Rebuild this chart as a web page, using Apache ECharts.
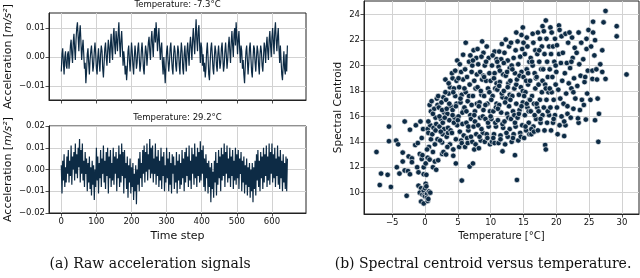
<!DOCTYPE html>
<html><head><meta charset="utf-8">
<script src="https://cdn.jsdelivr.net/npm/echarts@6/dist/echarts.min.js"></script>
<style>html,body{margin:0;padding:0;background:#fff}#c{width:640px;height:278px}</style>
</head><body><div id="c"></div>
<script>
// ---------- tick labels ----------
const timeStepTicks = [0, 100, 200, 300, 400, 500, 600];
const accelTicksCold = [-0.01, 0, 0.01];
const accelTicksWarm = [-0.02, -0.01, 0, 0.01, 0.02];
const temperatureTicks = [-5, 0, 5, 10, 15, 20, 25, 30];
const centroidTicks = [10, 12, 14, 16, 18, 20, 22, 24];

// ---------- texts ----------
const titleCold = 'Temperature: -7.3°C';
const titleWarm = 'Temperature: 29.2°C';
const captionA = '(a) Raw acceleration signals';
const captionB = '(b) Spectral centroid versus temperature.';

// ---------- signals (one stored sample every 2 time steps) ----------
const sampleStep = 2;
const signalCold = [
-0.005,0.001,0.003,-0.002,-0.006,0.000,0.002,-0.003,-0.004,0.001,
0.002,-0.004,-0.001,0.004,0.006,0.001,-0.002,0.005,0.008,0.003,
-0.001,0.006,0.010,0.012,0.007,0.002,0.008,0.011,0.005,-0.001,
0.003,0.006,0.001,-0.004,-0.002,-0.009,-0.005,0.001,0.003,-0.002,
-0.006,-0.001,0.002,0.004,0.000,-0.005,-0.003,0.002,0.005,0.001,
-0.004,-0.006,0.000,0.003,-0.002,-0.005,0.001,
0.004,0.002,-0.004,-0.007,-0.002,0.003,0.005,0.000,-0.003,0.002,
0.006,0.003,-0.002,0.004,0.008,0.002,-0.001,0.007,0.010,0.004,
0.001,0.009,0.006,0.002,0.008,0.012,0.005,0.000,0.006,0.009,
0.003,-0.003,0.002,-0.001,-0.006,-0.003,-0.008,-0.004,0.002,0.004,
-0.001,-0.005,0.000,0.005,0.002,-0.003,-0.006,0.000,0.004,0.001,
-0.004,-0.002,0.003,0.005,0.000,-0.005,-0.003,
0.002,0.005,0.001,-0.004,-0.006,0.000,0.004,0.002,-0.003,0.001,
0.005,0.007,0.002,-0.001,0.006,0.009,0.004,0.000,0.007,0.010,
0.005,0.012,0.008,0.002,0.006,0.010,0.004,-0.001,0.003,0.005,
-0.002,-0.006,0.000,-0.004,-0.009,-0.003,0.002,0.004,-0.001,-0.005,
-0.002,0.003,0.005,0.000,-0.004,-0.006,0.001,0.004,0.002,-0.003,
-0.005,0.000,0.004,0.002,-0.003,-0.006,0.001,
0.005,0.002,-0.004,-0.006,0.001,0.004,-0.001,-0.005,0.002,0.005,
0.001,-0.003,0.004,0.007,0.003,-0.001,0.006,0.010,0.005,0.001,
0.008,0.013,0.006,0.002,0.009,0.011,0.004,-0.002,0.005,0.003,
-0.003,0.001,-0.005,-0.002,-0.007,-0.004,0.002,0.005,0.000,-0.006,
-0.008,-0.002,0.003,0.005,0.001,-0.004,-0.006,0.000,0.004,0.002,
-0.003,-0.005,0.001,0.004,0.000,-0.004,-0.002,
0.003,0.005,0.000,-0.005,-0.003,0.002,0.005,0.001,-0.004,-0.001,
0.004,0.007,0.002,-0.002,0.005,0.009,0.004,0.000,0.008,0.010,
0.004,0.012,0.007,0.001,0.006,0.009,0.003,-0.002,0.004,0.002,
-0.004,-0.001,-0.006,-0.009,-0.003,0.002,0.004,-0.001,-0.006,-0.002,
0.003,0.005,0.000,-0.005,-0.007,-0.001,0.004,0.003,-0.002,-0.005,
0.000,0.004,0.002,-0.003,-0.006,0.001,0.004,
0.002,-0.003,-0.005,0.000,0.005,0.003,-0.002,0.004,0.007,0.002,
-0.001,0.006,0.009,0.004,0.000,0.007,0.010,0.005,0.001,0.009,
0.012,0.006,0.002,0.007,0.010,0.003,-0.002,0.004,-0.001,-0.006,
-0.008,-0.003,0.002,-0.004,-0.006,0.001,-0.005,0.004
];
const signalWarm = [
0.002,-0.011,0.004,-0.005,0.007,-0.008,0.001,-0.006,0.006,-0.002,
0.009,-0.006,0.004,-0.003,0.011,-0.007,0.006,0.000,0.008,-0.005,
0.012,-0.002,0.007,-0.004,0.010,0.001,0.014,-0.006,0.009,-0.002,
0.012,-0.005,0.004,-0.008,0.008,-0.002,0.005,-0.010,0.003,-0.006,
0.006,-0.009,0.001,-0.012,0.004,-0.007,0.002,-0.014,0.000,-0.008,
0.010,-0.005,0.006,-0.011,0.003,-0.004,0.009,-0.008,0.005,-0.002,
0.011,-0.006,0.004,-0.009,0.008,-0.003,0.010,-0.011,0.006,-0.004,
0.009,-0.008,0.003,-0.005,0.010,-0.007,0.006,-0.002,0.008,-0.010,
0.005,-0.004,0.011,-0.008,0.007,-0.006,0.012,-0.003,0.008,-0.011,
0.009,-0.004,0.003,-0.009,0.006,-0.013,0.002,-0.006,0.005,-0.011,
0.001,-0.008,0.003,-0.014,-0.002,-0.010,0.002,-0.016,0.000,-0.007,
0.005,-0.010,0.008,-0.004,0.003,-0.008,0.009,-0.002,0.011,-0.006,
0.008,-0.001,0.012,-0.005,0.007,0.000,0.014,-0.004,0.010,-0.002,
0.011,-0.006,0.005,-0.002,0.012,-0.007,0.006,-0.003,0.009,-0.008,
0.004,-0.005,0.010,-0.009,0.006,-0.003,0.008,-0.010,0.002,-0.006,
0.010,-0.004,0.005,-0.010,0.008,-0.007,0.003,-0.011,0.007,-0.002,
0.006,-0.009,0.002,-0.006,0.008,-0.011,0.004,-0.005,0.007,-0.009,
0.003,-0.007,0.009,-0.004,0.005,-0.010,0.008,-0.006,0.010,-0.003,
0.006,-0.008,0.011,-0.005,0.004,-0.009,0.010,-0.002,0.007,-0.007,
0.012,-0.004,0.006,-0.008,0.010,-0.003,0.008,-0.006,0.013,-0.005,
0.009,-0.002,0.011,-0.008,0.005,-0.010,0.007,-0.004,0.003,-0.011,
0.004,-0.008,0.001,-0.015,0.003,-0.009,-0.001,-0.013,0.004,-0.006,
0.008,-0.012,0.003,-0.007,0.009,-0.004,0.006,-0.010,0.010,-0.005,
0.007,-0.003,0.012,-0.008,0.008,-0.002,0.011,-0.006,0.005,-0.004,
0.010,-0.008,0.006,-0.003,0.009,-0.009,0.004,-0.005,0.010,-0.007,
0.007,-0.004,0.009,-0.009,0.005,-0.002,0.008,-0.010,0.004,-0.006,
0.006,-0.011,0.002,-0.007,0.005,-0.012,0.001,-0.008,0.003,-0.013,
0.000,-0.010,0.003,-0.015,0.001,-0.009,0.004,-0.012,0.007,-0.005,
0.009,-0.008,0.004,-0.010,0.008,-0.004,0.006,-0.009,0.010,-0.006,
0.007,-0.003,0.011,-0.008,0.006,-0.005,0.012,-0.007,0.008,-0.002,
0.012,-0.006,0.007,-0.004,0.010,-0.008,0.005,-0.003,0.011,-0.007,
0.006,-0.009,0.009,-0.004,0.004,-0.010,0.007,-0.006,0.003,-0.009,
0.006,-0.010,0.005
];

// ---------- scatter: [temperature °C, spectral centroid] ----------
const pointsBelowZero = [
[-7.4,13.2],[-6.7,11.5],[-6.9,10.6],[-5.7,11.4],[-5.2,10.45],[-2.8,9.75],[-5.5,15.2],[-5.5,14.05],
[-4.4,14.1],[-4.1,13.8],[-4.3,12.0],[-3.9,11.5],[-3.4,13.15],[-3.4,12.45],[-3.1,11.75],[-2.6,11.7],
[-2.5,12.85],[-2.3,14.95],[-3.1,15.6],[-2.3,11.45],[-2.0,12.7],[-2.0,12.4],[-1.5,13.75],[-1.1,13.9],
[-1.2,12.0],[-1.0,11.6],[-0.8,13.05],[-0.5,12.65],[-1.0,10.55],[-0.6,10.35],[-0.8,10.0],[-0.4,9.85],
[-0.6,9.3],[-0.2,9.15],[-0.2,10.15],[-0.1,9.8],[-0.2,11.45],[-0.2,12.0],[-0.4,12.95],[-0.5,14.3],
[-0.3,15.0],[-1.4,15.3],[-0.7,15.6]
];
const points0to5 = [
[0.0,9.7],[0.3,9.9],[0.4,9.35],[0.1,10.7],[0.6,10.1],[0.0,10.35],[0.3,9.6],[0.2,10.5],[0.5,9.5],[0.8,10.0],
[0.2,11.4],[0.1,12.3],[0.4,12.75],[0.7,12.6],[0.4,15.0],[0.5,14.7],[0.8,15.3],[0.6,13.6],[0.9,14.2],[0.3,13.4],
[0.9,16.4],[0.7,16.9],[0.5,15.6],
[1.2,13.2],[1.2,12.0],[1.7,11.8],[1.5,12.45],[1.1,14.6],[1.3,15.1],[1.6,15.9],[1.4,16.6],[1.8,17.4],[1.9,14.2],
[1.5,13.8],[1.2,16.2],[1.7,15.4],[1.9,16.9],[1.0,17.2],[1.6,14.9],
[2.0,12.55],[2.6,13.05],[2.8,13.2],[2.6,13.95],[2.7,14.6],[2.2,15.2],[2.4,15.8],[2.9,16.3],[2.1,16.7],[2.5,17.1],
[2.8,17.5],[2.3,14.1],[2.9,15.0],[2.2,16.0],[2.6,16.5],[2.0,17.6],[2.7,15.5],[2.4,14.8],
[3.2,13.0],[3.8,13.8],[3.1,18.9],[3.3,14.4],[3.5,15.1],[3.7,15.7],[3.4,16.2],[3.9,16.8],[3.2,17.3],[3.6,17.8],
[3.8,18.3],[3.5,14.7],[3.0,15.9],[3.9,14.9],[3.3,16.6],[3.7,17.0],[3.1,17.9],[3.6,18.6],[3.4,13.6],
[4.3,12.9],[4.3,13.4],[4.7,12.3],[4.2,19.0],[4.1,19.4],[4.4,18.2],[4.6,17.6],[4.8,17.0],[4.2,16.5],[4.5,15.9],
[4.9,15.3],[4.1,14.7],[4.7,14.2],[4.3,17.9],[4.8,18.8],[4.6,19.6],[4.9,20.4],[4.4,15.5],[4.2,16.1],[4.7,16.8]
];
const points5to10 = [
[5.6,10.95],[5.8,20.85],[5.2,13.6],[5.5,14.1],[5.3,14.8],[5.7,15.4],[5.1,16.0],[5.9,16.5],[5.4,17.1],[5.6,17.7],
[5.2,18.3],[5.8,18.9],[5.5,19.5],[5.3,20.1],[5.9,14.5],[5.0,15.7],[5.7,16.3],[5.4,17.4],[5.1,19.0],[5.6,13.9],
[6.8,12.05],[6.2,21.8],[6.7,20.3],[6.1,13.6],[6.4,14.3],[6.6,14.9],[6.3,15.5],[6.9,16.1],[6.0,16.7],[6.5,17.2],
[6.2,17.9],[6.8,18.5],[6.4,19.1],[6.1,19.7],[6.9,20.8],[6.6,15.2],[6.3,16.4],[6.7,17.6],[6.0,18.2],[6.5,13.9],
[7.3,12.3],[7.1,19.5],[7.5,13.4],[7.2,14.0],[7.8,14.6],[7.4,15.2],[7.0,15.8],[7.6,16.4],[7.9,17.0],[7.3,17.6],
[7.7,18.2],[7.5,18.8],[7.2,20.0],[7.8,20.6],[7.4,21.2],[7.0,14.4],[7.6,15.6],[7.1,16.9],[7.9,19.3],[7.7,13.8],
[7.3,20.4],[7.5,16.1],
[8.7,21.9],[8.9,21.0],[8.2,13.5],[8.5,14.1],[8.8,14.7],[8.1,15.3],[8.4,15.9],[8.9,16.5],[8.3,17.1],[8.6,17.7],
[8.0,18.3],[8.7,18.9],[8.4,19.5],[8.1,20.1],[8.6,20.7],[8.3,14.4],[8.8,16.0],[8.2,16.8],[8.5,18.0],[8.9,19.2],
[8.0,21.3],[8.6,15.0],
[9.1,14.0],[9.4,14.6],[9.7,15.2],[9.2,15.8],[9.9,16.4],[9.5,17.0],[9.0,17.6],[9.6,18.2],[9.3,18.8],[9.8,19.4],
[9.1,20.0],[9.7,20.6],[9.4,21.5],[9.2,16.9],[9.8,17.9],[9.5,14.3],[9.0,19.1],[9.6,15.5],[9.3,20.3],[9.9,13.8]
];
const points10to15 = [
[10.6,21.1],[10.2,14.0],[10.5,14.6],[10.8,15.2],[10.1,15.8],[10.4,16.4],[10.9,17.0],[10.3,17.6],[10.7,18.2],[10.0,18.8],
[10.6,19.4],[10.2,20.0],[10.9,20.5],[10.4,14.3],[10.8,16.7],[10.1,17.3],[10.5,19.0],[10.7,15.5],[10.3,20.8],[10.0,16.0],
[10.9,18.6],[10.6,13.9],
[11.7,21.7],[11.8,13.25],[11.2,13.9],[11.5,14.5],[11.9,15.1],[11.1,15.7],[11.6,16.3],[11.3,16.9],[11.8,17.5],[11.0,18.1],
[11.4,18.7],[11.9,19.3],[11.2,19.9],[11.6,20.5],[11.3,21.1],[11.5,14.2],[11.1,16.6],[11.7,17.8],[11.4,19.6],[11.0,20.3],
[11.8,15.4],[11.3,18.4],
[12.3,22.05],[12.2,13.8],[12.6,14.4],[12.9,15.0],[12.1,15.6],[12.5,16.2],[12.8,16.8],[12.4,17.4],[12.0,18.0],[12.7,18.6],
[12.3,19.2],[12.9,19.8],[12.6,20.4],[12.1,21.0],[12.8,21.5],[12.4,14.7],[12.7,15.9],[12.2,17.1],[12.6,18.3],[12.9,17.7],
[12.0,20.2],[12.5,19.5],
[13.7,12.95],[13.9,22.6],[13.2,14.0],[13.5,14.6],[13.8,15.2],[13.1,15.8],[13.4,16.4],[13.9,17.0],[13.3,17.6],[13.6,18.2],
[13.0,18.8],[13.7,19.4],[13.2,20.0],[13.5,20.6],[13.8,21.2],[13.1,21.8],[13.4,14.3],[13.6,16.1],[13.0,17.3],[13.9,18.5],
[13.3,19.7],[13.7,15.5],
[14.0,11.0],[14.9,23.0],[14.7,22.4],[14.2,14.1],[14.5,14.7],[14.8,15.3],[14.1,15.9],[14.4,16.5],[14.9,17.1],[14.3,17.7],
[14.6,18.3],[14.0,18.9],[14.7,19.5],[14.2,20.1],[14.5,20.7],[14.8,21.3],[14.1,21.9],[14.6,14.4],[14.3,16.2],[14.9,18.0],
[14.4,19.2],[14.7,16.8]
];
const points15to20 = [
[15.5,22.2],[15.1,14.3],[15.4,14.9],[15.8,15.5],[15.2,16.1],[15.6,16.7],[15.9,17.3],[15.3,17.9],[15.7,18.5],[15.0,19.1],
[15.5,19.7],[15.9,20.3],[15.2,20.9],[15.6,21.5],[15.3,15.2],[15.8,16.4],[15.1,17.6],[15.4,18.8],[15.7,19.4],[15.0,21.8],
[15.9,14.6],[15.5,17.0],
[16.4,22.5],[16.2,14.6],[16.5,15.2],[16.9,15.8],[16.1,16.4],[16.6,17.0],[16.3,17.6],[16.8,18.2],[16.0,18.8],[16.7,19.4],
[16.4,20.0],[16.1,20.6],[16.8,21.2],[16.5,21.8],[16.2,15.0],[16.7,16.1],[16.0,17.3],[16.9,19.0],[16.3,20.3],[16.6,14.8],
[17.9,23.1],[17.2,14.9],[17.6,15.5],[17.9,16.1],[17.1,16.7],[17.5,17.3],[17.8,17.9],[17.3,18.5],[17.0,19.1],[17.7,19.7],
[17.4,20.3],[17.1,20.9],[17.8,21.5],[17.5,22.1],[17.2,22.6],[17.6,15.8],[17.0,17.0],[17.9,18.8],[17.4,21.2],[17.3,16.4],
[18.4,23.55],[18.3,13.75],[18.4,13.4],[18.2,14.9],[18.6,15.5],[18.9,16.1],[18.1,16.7],[18.5,17.3],[18.8,17.9],[18.3,18.5],
[18.7,19.1],[18.0,19.7],[18.6,20.3],[18.2,20.9],[18.9,21.5],[18.5,22.1],[18.1,22.7],[18.7,16.4],[18.4,18.2],
[19.1,23.0],[19.2,14.9],[19.5,15.5],[19.8,16.1],[19.1,16.7],[19.6,17.3],[19.3,17.9],[19.9,18.5],[19.4,19.1],[19.0,19.7],
[19.7,20.3],[19.2,20.9],[19.5,21.5],[19.8,22.1],[19.3,22.6],[19.6,15.8],[19.0,18.2],[19.9,20.0]
];
const pointsAbove20 = [
[20.4,23.16],[20.2,14.6],[20.5,15.3],[20.8,16.0],[20.1,16.7],[20.6,17.4],[20.3,18.1],[20.9,18.8],[20.0,19.5],[20.7,20.2],
[20.4,20.9],[20.1,21.6],[20.8,22.3],[20.5,22.8],
[21.2,14.45],[21.4,15.3],[21.2,15.6],[21.7,16.2],[21.1,17.0],[21.5,17.8],[21.9,18.6],[21.3,19.4],[21.6,20.2],[21.0,21.0],
[21.8,21.8],[21.4,22.5],[21.7,16.8],
[22.2,15.9],[22.6,16.6],[22.9,17.4],[22.3,18.2],[22.7,19.0],[22.1,19.8],[22.5,20.6],[22.8,21.4],[22.4,22.2],[22.0,22.6],
[22.6,17.9],[22.3,20.3],
[23.4,15.5],[23.3,15.85],[23.6,16.5],[23.9,17.3],[23.2,18.4],[23.7,19.2],[23.5,20.1],[23.1,21.0],[23.8,21.8],[23.4,22.6],
[24.5,15.75],[24.9,22.8],[24.6,22.1],[24.2,16.9],[24.7,17.8],[24.3,18.7],[24.8,19.6],[24.1,20.5],[24.6,21.3],[24.4,19.1],
[25.6,23.45],[25.9,15.7],[25.5,19.6],[25.5,18.95],[25.9,22.0],[25.6,22.6],[25.2,17.3],[25.8,20.8],[25.3,21.5],
[26.5,16.2],[26.1,19.7],[26.7,20.1],[26.2,18.9],[27.0,19.5],[27.5,18.95],[27.0,21.2],[27.5,24.3],[27.2,23.4],[26.4,14.0],
[29.2,23.1],[29.2,22.3],[30.7,19.3],[26.3,17.4]
];

// ---------- chart ----------
const FONT = 'DejaVu Sans';
const INK = '#0d2b45';
const FRAME = '#222';
const GRIDC = '#d2d2d2';
const minusFmt = d => v => (Math.abs(v) < 1e-12 ? (0).toFixed(d) : v.toFixed(d)).replace('-', '\u2212');

function xyPairs(arr) { return arr.map((v, i) => [i * sampleStep, v]); }

function valAxis(o) {
  return Object.assign({
    type: 'value',
    axisLine: { show: true, onZero: false, lineStyle: { color: FRAME, width: 1 } },
    axisTick: { show: true, length: 3.5, lineStyle: { color: FRAME, width: 0.8 } },
    splitLine: { show: true, lineStyle: { color: GRIDC, width: 1 } },
    axisLabel: { color: '#111', fontFamily: FONT, fontSize: 8.5, margin: 4 },
    nameTextStyle: { color: '#111', fontFamily: FONT, fontSize: 11 }
  }, o);
}
function withTicks(ax, ticks, fmt, showLabel) {
  ax.axisTick = Object.assign({}, ax.axisTick, { customValues: ticks });
  ax.axisLabel = Object.assign({}, ax.axisLabel, { customValues: ticks, formatter: fmt, show: showLabel });
  return ax;
}

const accelName = 'Acceleration [{i|m/s²}]';
const accelNameStyle = { color: '#111', fontFamily: FONT, fontSize: 11,
  rich: { i: { fontFamily: FONT, fontSize: 11, fontStyle: 'italic', color: '#111' } } };

const chart = echarts.init(document.getElementById('c'), null, { renderer: 'canvas' });
chart.setOption({
  animation: false,
  backgroundColor: '#fff',
  grid: [
    { left: 49, top: 13, width: 257, height: 87, show: true, borderColor: FRAME, borderWidth: 1 },
    { left: 49, top: 126, width: 257, height: 87, show: true, borderColor: FRAME, borderWidth: 1 },
    { left: 364, top: 1, width: 275, height: 213, show: true, borderColor: FRAME, borderWidth: 1 }
  ],
  xAxis: [
    withTicks(valAxis({ gridIndex: 0, min: -35, max: 697 }), timeStepTicks, v => String(v), false),
    withTicks(valAxis({ gridIndex: 1, min: -35, max: 697, name: 'Time step', nameLocation: 'middle', nameGap: 18 }),
      timeStepTicks, v => String(v), true),
    withTicks(valAxis({ gridIndex: 2, min: -9.3, max: 32.6, name: 'Temperature [°C]', nameLocation: 'middle', nameGap: 16,
      nameTextStyle: { color: '#111', fontFamily: FONT, fontSize: 10 } }), temperatureTicks, minusFmt(0), true)
  ],
  yAxis: [
    withTicks(valAxis({ gridIndex: 0, min: -0.0148, max: 0.0152, name: accelName, nameLocation: 'middle', nameGap: 35,
      nameTextStyle: accelNameStyle }), accelTicksCold, minusFmt(2), true),
    withTicks(valAxis({ gridIndex: 1, min: -0.02, max: 0.02, name: accelName, nameLocation: 'middle', nameGap: 35,
      nameTextStyle: accelNameStyle }), accelTicksWarm, minusFmt(2), true),
    withTicks(valAxis({ gridIndex: 2, min: 8.32, max: 25.08, name: 'Spectral Centroid', nameLocation: 'middle', nameGap: 20,
      nameTextStyle: { color: '#111', fontFamily: FONT, fontSize: 10.5 } }), centroidTicks, v => String(v), true)
  ],
  series: [
    { type: 'line', xAxisIndex: 0, yAxisIndex: 0, data: xyPairs(signalCold), showSymbol: false, symbol: 'none',
      lineStyle: { color: INK, width: 1.2 }, clip: true },
    { type: 'line', xAxisIndex: 1, yAxisIndex: 1, data: xyPairs(signalWarm), showSymbol: false, symbol: 'none',
      lineStyle: { color: INK, width: 1.2 }, clip: true },
    { type: 'scatter', xAxisIndex: 2, yAxisIndex: 2,
      data: [].concat(pointsBelowZero, points0to5, points5to10, points10to15, points15to20, pointsAbove20),
      symbolSize: 5.5, itemStyle: { color: INK, borderColor: '#ffffff', borderWidth: 0.6, opacity: 1 } }
  ],
  graphic: [
    { type: 'text', x: 177.5, y: 5, style: { text: titleCold, font: '8.5px "DejaVu Sans"', fill: '#111', align: 'center', verticalAlign: 'middle' } },
    { type: 'text', x: 177.5, y: 118, style: { text: titleWarm, font: '8.5px "DejaVu Sans"', fill: '#111', align: 'center', verticalAlign: 'middle' } },
    { type: 'text', x: 150, y: 264, style: { text: captionA, font: '14px "DejaVu Serif"', fill: '#111', align: 'center', verticalAlign: 'middle' } },
    { type: 'text', x: 483, y: 264, style: { text: captionB, font: '14px "DejaVu Serif"', fill: '#111', align: 'center', verticalAlign: 'middle' } }
  ]
});
</script></body></html>
